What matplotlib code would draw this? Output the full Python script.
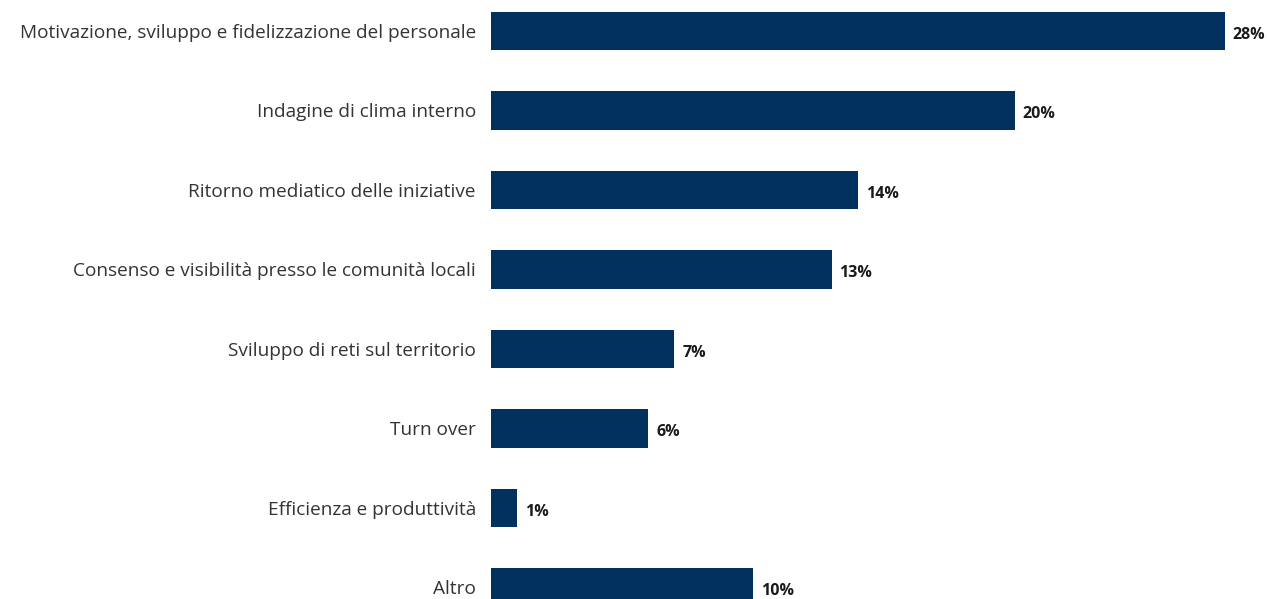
import numpy as np
import matplotlib.pyplot as plt

categorie = [
    'Motivazione, sviluppo e fidelizzazione del personale',
    'Indagine di clima interno',
    'Ritorno mediatico delle iniziative',
    'Consenso e visibilità presso le comunità locali',
    'Sviluppo di reti sul territorio',
    'Turn over',
    'Efficienza e produttività',
    'Altro',
]
valori = [28, 20, 14, 13, 7, 6, 1, 10]

colore_barre = '#00315f'

plt.rcParams['font.family'] = ['Open Sans', 'DejaVu Sans']

fig = plt.figure(figsize=(12.67, 5.99), dpi=100)
ax = fig.add_axes([491 / 1267, 0, 1 - 491 / 1267, 1])

y = np.arange(len(categorie))
ax.barh(y, valori, height=0.48, color=colore_barre)

for yi, v in zip(y, valori):
    ax.text(v + 0.3, yi + 0.05, f'{v}%', va='center', ha='left',
            fontsize=11.5, fontweight='bold', color='#1a1a1a')

ax.set_yticks(y)
ax.set_yticklabels(categorie, fontsize=13.7, color='#333333')
ax.tick_params(axis='y', length=0, pad=10.8)
ax.set_xticks([])
ax.set_xlim(0, (1267 - 491) / 26.2)
ax.set_ylim(7 + 0.145, -0.39)
for s in ax.spines.values():
    s.set_visible(False)

fig.savefig('out.png', dpi=100)
